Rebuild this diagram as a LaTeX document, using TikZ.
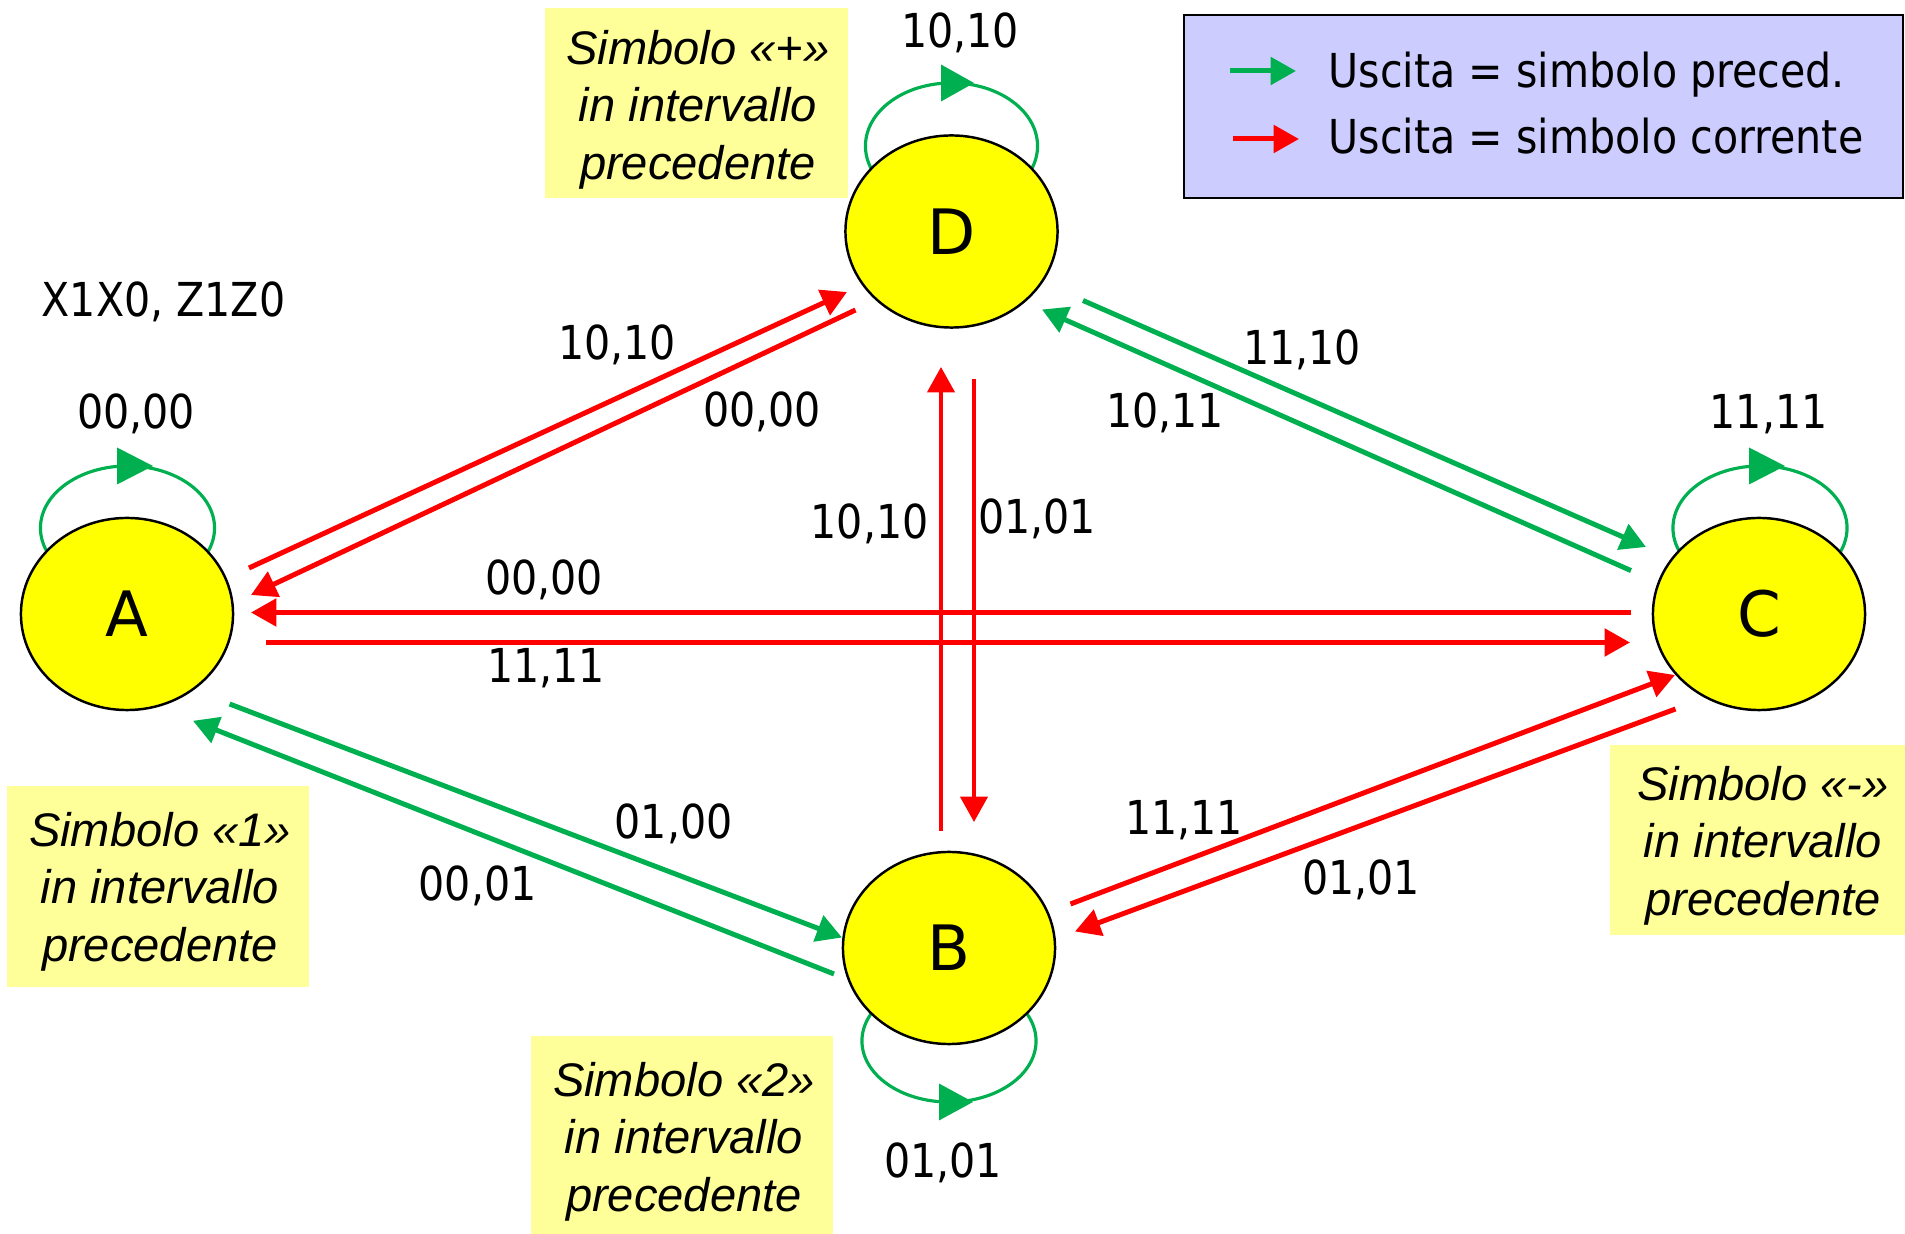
\documentclass[tikz,border=0pt]{standalone}
\usepackage{fontspec}
\setmainfont[FakeStretch=0.88]{DejaVu Sans}
\newfontfamily\boxfont{Liberation Sans}
\newfontfamily\statefont{DejaVu Sans}
\usetikzlibrary{arrows.meta,shapes.geometric}
\definecolor{vgreen}{RGB}{0,176,80}
\definecolor{vred}{RGB}{255,0,0}
\definecolor{nyellow}{RGB}{255,255,0}
\definecolor{pyellow}{RGB}{255,255,153}
\definecolor{lav}{RGB}{204,204,255}
\pgfdeclarelayer{bg}
\pgfsetlayers{bg,main}
\begin{document}
\begin{tikzpicture}[x=0.01cm,y=-0.01cm,
  state/.style={ellipse,draw=black,line width=0.7pt,fill=nyellow,minimum width=2.12cm,minimum height=1.92cm,inner sep=0pt,outer sep=0pt,font=\statefont\fontsize{17.8pt}{20pt}\selectfont},
  lab/.style={anchor=base,inner sep=0pt,font=\fontsize{13.3pt}{16pt}\selectfont},
  notebox/.style={fill=pyellow,draw=none},
  notetext/.style={align=center,inner sep=0pt,font=\boxfont\itshape\fontsize{13.4pt}{16.4pt}\selectfont},
  redarr/.style={color=vred,line width=1.42pt,-{Triangle[length=7.2pt,width=7.7pt]}},
  redvarr/.style={color=vred,line width=1.1pt,-{Triangle[length=7.2pt,width=7.7pt]}},
  greenarr/.style={color=vgreen,line width=1.42pt,-{Triangle[length=7.2pt,width=7.7pt]}},
  loopline/.style={draw=vgreen,line width=0.9pt},
  loophead/.style={fill=vgreen},
]
\useasboundingbox (0,0) rectangle (1905,1234);

% states
\node[state] (A) at (127,614) {A};
\node[state] (D) at (951.5,231.5) {D};
\node[state] (C) at (1759,614) {C};
\node[state] (B) at (949,948) {B};

\begin{pgfonlayer}{bg}
% note boxes
\fill[notebox] (545,8) rectangle (848,198);
\fill[notebox] (7,786) rectangle (309,987);
\fill[notebox] (531,1036) rectangle (833,1234);
\fill[notebox] (1610,745) rectangle (1905,935);
% legend
\draw[line width=0.7pt,fill=lav] (1184,15) rectangle (1903,198);

% A <-> D
\draw[redarr] ([shift={(122,-46)}]A.center) -- ([shift={(-104.5,60.5)}]D.center);
\draw[redarr] ([shift={(-96,78.5)}]D.center) -- ([shift={(124,-19)}]A.center);
% A <-> C
\draw[redarr] ([shift={(-128,-1.5)}]C.center) -- ([shift={(124,-1.5)}]A.center);
\draw[redarr] ([shift={(139,28.5)}]A.center) -- ([shift={(-129,28.5)}]C.center);
% B <-> D
\draw[redvarr] ([shift={(-8,-117)}]B.center) -- ([shift={(-10.5,135.5)}]D.center);
\draw[redvarr] ([shift={(22.5,147.5)}]D.center) -- ([shift={(25,-126)}]B.center);
% D <-> C
\draw[greenarr] ([shift={(131.5,69)}]D.center) -- ([shift={(-113,-67)}]C.center);
\draw[greenarr] ([shift={(-128,-43.4)}]C.center) -- ([shift={(90.5,78)}]D.center);
% A <-> B
\draw[greenarr] ([shift={(102.6,90)}]A.center) -- ([shift={(-107,-10.5)}]B.center);
\draw[greenarr] ([shift={(-115,26)}]B.center) -- ([shift={(66,106.8)}]A.center);
% B <-> C
\draw[redarr] ([shift={(121.5,-44)}]B.center) -- ([shift={(-84,61)}]C.center);
\draw[redarr] ([shift={(-83.5,95)}]C.center) -- ([shift={(126,-16.5)}]B.center);

% self loops
\draw[loopline] ([shift={(0.5,-86)}]A.center) ellipse [x radius=0.87cm, y radius=0.62cm];
\fill[loophead] ([shift={(-10,-166.5)}]A.center) -- ([shift={(26,-148)}]A.center) -- ([shift={(-10,-129.5)}]A.center) -- cycle;
\draw[loopline] ([shift={(0,-85.5)}]D.center) ellipse [x radius=0.86cm, y radius=0.63cm];
\fill[loophead] ([shift={(-10.5,-167)}]D.center) -- ([shift={(22.5,-148.5)}]D.center) -- ([shift={(-10.5,-130)}]D.center) -- cycle;
\draw[loopline] ([shift={(1,-86)}]C.center) ellipse [x radius=0.87cm, y radius=0.62cm];
\fill[loophead] ([shift={(-10,-166.5)}]C.center) -- ([shift={(26,-148)}]C.center) -- ([shift={(-10,-129.5)}]C.center) -- cycle;
\draw[loopline] ([shift={(0,93)}]B.center) ellipse [x radius=0.87cm, y radius=0.61cm];
\fill[loophead] ([shift={(-10,135.5)}]B.center) -- ([shift={(24,154)}]B.center) -- ([shift={(-10,172.5)}]B.center) -- cycle;
\end{pgfonlayer}

% legend arrows and text
\coordinate (g1) at (1230,71);
\coordinate (g2) at (1296,71);
\coordinate (r1) at (1233,139);
\coordinate (r2) at (1299,139);
\draw[greenarr] (g1) -- (g2);
\draw[redarr] (r1) -- (r2);
\node[lab,anchor=base west] (leg1) at (1328,88) {Uscita = simbolo preced.};
\node[lab,anchor=base west] (leg2) at (1328,154) {Uscita = simbolo corrente};

% note texts
\node[notetext] (n1) at (698,109.75) {Simbolo «+»\\in intervallo\\precedente};
\node[notetext] (n2) at (160,891.5) {Simbolo «1»\\in intervallo\\precedente};
\node[notetext] (n3) at (684,1141.5) {Simbolo «2»\\in intervallo\\precedente};
\node[notetext] (n4) at (1763,845.5) {Simbolo «-»\\in intervallo\\precedente};

% labels
\node[lab,anchor=base west] (hdr) at (41,317) {X1X0, Z1Z0};
\node[lab] (lA) at (136,429) {00,00};
\node[lab] (lD) at (960,48) {10,10};
\node[lab] (lC) at (1768.6,429) {11,11};
\node[lab] (lB) at (943,1178) {01,01};
\node[lab] (lad) at (617,360) {10,10};
\node[lab] (lda) at (762,427) {00,00};
\node[lab] (lca) at (544,595) {00,00};
\node[lab] (lac) at (546,683) {11,11};
\node[lab] (lbd) at (869.6,538.5) {10,10};
\node[lab] (ldb) at (1037,534) {01,01};
\node[lab] (ldc) at (1302,364.6) {11,10};
\node[lab] (lcd) at (1165,428) {10,11};
\node[lab] (lab1) at (673.6,839) {01,00};
\node[lab] (lba) at (477.6,900.7) {00,01};
\node[lab] (lbc) at (1184,835) {11,11};
\node[lab] (lcb) at (1361,894.7) {01,01};
\end{tikzpicture}
\end{document}
